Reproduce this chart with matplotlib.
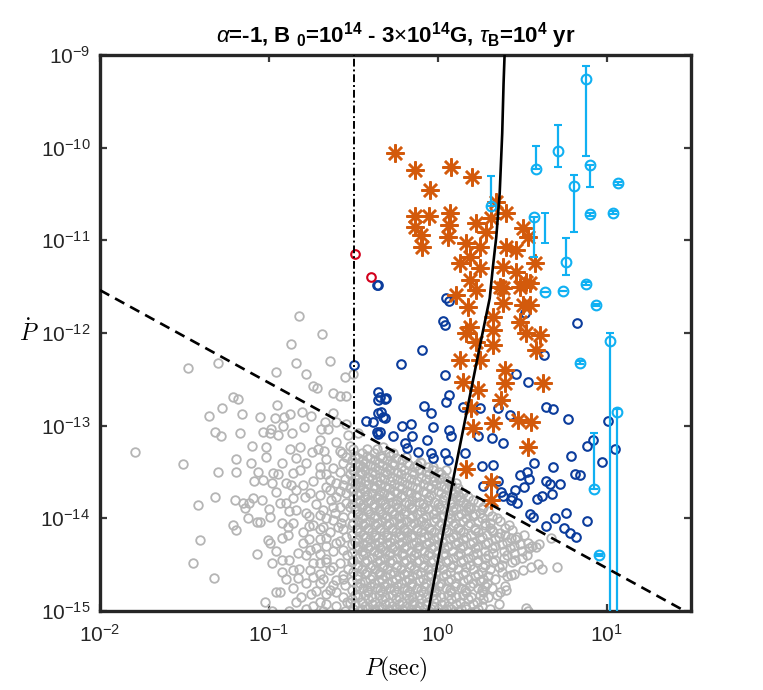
import numpy as np
import matplotlib
matplotlib.use("Agg")
import matplotlib.pyplot as plt
from matplotlib.ticker import FixedLocator, FuncFormatter, NullLocator

# ── Data (log10 values) ──────────────────────────────────────────────────────
# grey: ordinary pulsars, scattered part
gray_logP = [
    -0.822, -0.685, -0.868, -0.639, -0.837, -1.300, -1.477, -0.959, -0.778, -0.550,
    -0.501, -0.738, -0.712, -0.620, -0.580, -0.541, -1.211, -1.182, -0.949, -1.280,
    -1.353, -1.158, -1.050, -0.876, -0.910, -0.803, -0.748, -0.620, -0.669, -0.600,
    -0.541, -0.961, -0.916, -0.988, -0.994, -0.945, -1.034, -1.320, -1.286, -1.172,
    -0.860, -0.791, -0.689, -0.650, -0.531, -0.472, -1.793, -1.507, -1.097, -1.014,
    -0.876, -0.817, -0.742, -0.709, -0.675, -0.576, -0.564, -1.192, -1.018, -1.107,
    -1.300, -1.192, -1.064, -0.975, -0.945, -0.857, -0.817, -0.778, -1.034, -1.089,
    -0.984, -0.896, -0.866, -0.798, -0.837, -0.788, -0.758, -1.320, -1.418, -1.201,
    -1.152, -1.118, -1.142, -1.093, -1.038, -0.935, -0.896, -0.857, -0.994, -1.123,
    -1.073, -1.053, -1.211, -1.192, -0.925, -0.886, -0.857, -1.408, -1.005, -0.994,
    -0.920, -0.886, -1.073, -1.448, -1.325, -0.984, -0.925, -0.935, -1.024, -0.857,
    -0.807, -0.857, -0.827, -0.757, -0.738, -0.698, -0.698, -0.659, -0.797, -0.757,
    -0.718, -0.827, -0.778, -0.837, -0.778, -0.698, -0.679, -0.738, -0.679, -0.639,
    -0.659, -0.609, -0.560, -0.590, -0.541, -0.600, -0.560, -0.639, -0.600, -0.560,
    -0.639, -0.541, -0.600, -0.541, -0.541, -0.501, -0.462, -0.462, -0.639, -0.600,
    -0.560, -0.639, -0.560, -0.698, -0.521, -0.955,
    -0.70, -0.66, -0.58, -0.62, -0.66, -0.57, -0.70, -0.62, -0.66, -0.58,
    -0.53, -0.70, -0.62, -0.55, -0.75, -0.66, -0.60, -0.78, -0.68, -0.55, -0.88,
    -0.74, -0.70, -0.66, -0.72, -0.63, -0.58, -0.55, -0.58, -0.76, -0.70,
    -0.62, -0.56, -0.80, -0.76, -0.66, -0.58, -0.70, -0.54, -0.74, -0.62,
    -0.56, -0.68, -0.78, -0.72, -0.60, -0.54, -0.66, -0.84, -0.74, -0.90,
    -0.88, -0.96, -0.92, -0.82, -0.76, -0.70, -0.62, -0.56, -0.66, -0.60,
    -0.52, -0.70, -0.84, -0.92, -0.88, -0.96, -1.00, -0.98,
    -0.324, -0.265, -0.186, -0.107, -0.028, 0.051, 0.110, 0.130, 0.189, 0.249,
    0.308, 0.367, 0.435, 0.534, 0.584, 0.672, 0.706, 0.593, 0.504, 0.435,
    0.524, 0.406, 0.534,
]
gray_logPdot = [
    -11.816, -12.011, -12.122, -12.302, -12.327, -12.327, -12.381, -12.424, -12.446, -12.478,
    -12.442, -12.572, -12.590, -12.650, -12.680, -12.680, -12.687, -12.716, -12.777, -12.813,
    -12.896, -12.874, -12.910, -12.874, -12.902, -12.849, -12.892, -12.860, -12.957, -12.957,
    -12.982, -12.913, -12.999, -13.040, -13.076, -13.101, -13.065, -13.065, -13.111, -13.083,
    -13.076, -13.017, -13.040, -13.040, -13.101, -13.083, -13.287, -13.413, -13.220, -13.230,
    -13.255, -13.233, -13.287, -13.255, -13.273, -13.273, -13.298, -13.363, -13.341, -13.406,
    -13.496, -13.496, -13.496, -13.514, -13.521, -13.514, -13.478, -13.406, -13.586, -13.593,
    -13.622, -13.622, -13.640, -13.640, -13.694, -13.773, -13.730, -13.766, -13.856, -13.802,
    -13.838, -13.838, -13.892, -13.784, -13.802, -13.838, -13.838, -13.784, -13.989, -13.999,
    -14.036, -14.036, -14.072, -14.126, -14.054, -14.090, -14.054, -14.234, -14.234, -14.263,
    -14.215, -14.180, -14.385, -14.485, -14.647, -14.485, -14.449, -14.791, -14.899, -14.755,
    -14.845, -14.557, -14.647, -14.557, -14.629, -14.701, -14.485, -14.467, -14.270, -14.342,
    -14.324, -14.377, -14.395, -13.910, -13.946, -13.964, -13.910, -14.072, -14.090, -14.144,
    -14.215, -13.946, -13.982, -14.090, -14.198, -14.270, -14.342, -13.586, -13.622, -13.640,
    -13.694, -13.730, -13.766, -13.838, -13.334, -13.478, -13.424, -13.604, -14.557, -14.665,
    -14.611, -14.773, -14.845, -14.899, -14.917, -14.790,
    -13.45, -13.52, -13.50, -13.88, -14.00, -14.05, -14.22, -14.35, -14.44, -14.48,
    -14.55, -14.60, -14.72, -14.72, -14.82, -14.82, -14.95, -14.98, -15.00, -15.00, -15.00,
    -13.60, -13.75, -13.66, -13.85, -13.80, -13.88, -13.58, -13.70, -13.98, -14.12,
    -14.02, -14.12, -14.15, -14.22, -14.30, -14.24, -14.38, -14.40, -14.48, -14.52,
    -14.66, -14.66, -14.70, -14.78, -14.80, -14.90, -14.92, -14.90, -14.95, -14.65,
    -14.45, -14.35, -14.58, -14.55, -14.08, -13.52, -13.46, -13.40, -13.36, -13.18,
    -13.22, -13.15, -13.35, -13.40, -13.92, -13.72, -13.90, -15.00,
    -13.227, -13.298, -13.334, -13.388, -13.442, -13.478, -13.622, -13.766, -13.874, -13.946,
    -14.053, -14.160, -14.215, -14.270, -14.306, -14.215, -14.520, -14.490, -14.557, -14.611,
    -14.970, -14.773, -14.996,
]

# grey: dense core, one row of log10(P) values per log10(Pdot) level
gray_rows = [
    (-13.250, [-0.50, -0.42, -0.36]),
    (-13.300, [-0.45, -0.38, -0.29]),
    (-13.325, [-0.49, -0.42, -0.34, -0.28]),
    (-13.350, [-0.47, -0.40, -0.33, -0.25]),
    (-13.375, [-0.51, -0.44, -0.37, -0.30, -0.21]),
    (-13.400, [-0.49, -0.43, -0.35, -0.27, -0.18, -0.10]),
    (-13.425, [-0.47, -0.40, -0.33, -0.26, -0.17, -0.12]),
    (-13.450, [-0.52, -0.44, -0.37, -0.30, -0.22, -0.14, -0.06]),
    (-13.475, [-0.50, -0.43, -0.35, -0.28, -0.20, -0.11, -0.03]),
    (-13.500, [-0.46, -0.39, -0.31, -0.24, -0.15, -0.07, 0.01]),
    (-13.525, [-0.52, -0.45, -0.37, -0.30, -0.22, -0.14, -0.05, 0.02]),
    (-13.550, [-0.49, -0.41, -0.34, -0.27, -0.19, -0.10, -0.02, 0.04]),
    (-13.575, [-0.47, -0.39, -0.32, -0.24, -0.16, -0.07, 0.01]),
    (-13.600, [-0.51, -0.43, -0.36, -0.28, -0.21, -0.12, -0.03, 0.06]),
    (-13.625, [-0.49, -0.41, -0.34, -0.26, -0.18, -0.09, -0.01, 0.08]),
    (-13.650, [-0.46, -0.38, -0.31, -0.23, -0.15, -0.06, 0.02, 0.08]),
    (-13.675, [-0.52, -0.44, -0.37, -0.29, -0.21, -0.12, -0.04, 0.05, 0.12]),
    (-13.700, [-0.50, -0.43, -0.34, -0.26, -0.18, -0.09, 0.00, 0.10]),
    (-13.725, [-0.46, -0.39, -0.32, -0.24, -0.16, -0.07, 0.02, 0.09, 0.15]),
    (-13.750, [-0.48, -0.42, -0.35, -0.28, -0.21, -0.13, -0.04, 0.05, 0.12]),
    (-13.775, [-0.50, -0.43, -0.36, -0.29, -0.22, -0.13, -0.05, 0.04, 0.11, 0.18]),
    (-13.800, [-0.46, -0.40, -0.33, -0.24, -0.15, -0.06, 0.03, 0.13, 0.21]),
    (-13.825, [-0.47, -0.41, -0.34, -0.27, -0.19, -0.11, -0.02, 0.07, 0.15, 0.24]),
    (-13.850, [-0.51, -0.44, -0.38, -0.31, -0.25, -0.17, -0.09, 0.00, 0.08, 0.17]),
    (-13.875, [-0.52, -0.45, -0.38, -0.31, -0.24, -0.16, -0.08, 0.01, 0.09, 0.18, 0.27]),
    (-13.900, [-0.49, -0.42, -0.35, -0.29, -0.22, -0.15, -0.06, 0.02, 0.11, 0.19, 0.26]),
    (-13.925, [-0.48, -0.41, -0.34, -0.27, -0.19, -0.10, -0.01, 0.09, 0.17, 0.30]),
    (-13.950, [-0.47, -0.40, -0.33, -0.26, -0.20, -0.12, -0.03, 0.06, 0.14, 0.22]),
    (-13.975, [-0.51, -0.44, -0.37, -0.30, -0.23, -0.15, -0.07, 0.03, 0.12, 0.21, 0.32]),
    (-14.000, [-0.45, -0.38, -0.31, -0.23, -0.16, -0.09, -0.01, 0.08, 0.17, 0.26, 0.35]),
    (-14.025, [-0.47, -0.40, -0.33, -0.26, -0.18, -0.10, -0.02, 0.06, 0.15, 0.24, 0.37]),
    (-14.050, [-0.50, -0.43, -0.36, -0.29, -0.22, -0.14, -0.07, 0.02, 0.10, 0.19, 0.28]),
    (-14.075, [-0.51, -0.44, -0.37, -0.30, -0.23, -0.16, -0.08, 0.01, 0.09, 0.18, 0.28, 0.42]),
    (-14.100, [-0.48, -0.41, -0.34, -0.27, -0.20, -0.12, -0.05, 0.04, 0.12, 0.22, 0.31, 0.40]),
    (-14.125, [-0.48, -0.41, -0.34, -0.27, -0.20, -0.12, -0.04, 0.05, 0.13, 0.22, 0.32, 0.44]),
    (-14.150, [-0.46, -0.39, -0.32, -0.25, -0.18, -0.10, -0.02, 0.06, 0.15, 0.24, 0.33]),
    (-14.175, [-0.51, -0.44, -0.37, -0.30, -0.22, -0.15, -0.06, 0.02, 0.11, 0.20, 0.29, 0.40, 0.51]),
    (-14.200, [-0.43, -0.37, -0.30, -0.23, -0.16, -0.08, 0.00, 0.09, 0.17, 0.26, 0.36, 0.47]),
    (-14.225, [-0.47, -0.40, -0.33, -0.26, -0.18, -0.10, -0.02, 0.07, 0.15, 0.25, 0.34, 0.46]),
    (-14.250, [-0.49, -0.42, -0.35, -0.28, -0.21, -0.13, -0.05, 0.03, 0.12, 0.21, 0.30, 0.41]),
    (-14.275, [-0.51, -0.44, -0.37, -0.30, -0.23, -0.15, -0.07, 0.01, 0.10, 0.19, 0.28, 0.38, 0.49, 0.60]),
    (-14.300, [-0.47, -0.40, -0.33, -0.26, -0.19, -0.11, -0.02, 0.06, 0.15, 0.24, 0.34, 0.45, 0.56]),
    (-14.325, [-0.48, -0.41, -0.34, -0.27, -0.20, -0.12, -0.04, 0.04, 0.13, 0.22, 0.32, 0.43, 0.54]),
    (-14.350, [-0.45, -0.38, -0.31, -0.24, -0.16, -0.08, 0.00, 0.09, 0.18, 0.28, 0.39, 0.50]),
    (-14.375, [-0.51, -0.43, -0.35, -0.28, -0.21, -0.13, -0.05, 0.04, 0.13, 0.23, 0.33, 0.45]),
    (-14.400, [-0.44, -0.36, -0.29, -0.21, -0.14, -0.06, 0.03, 0.12, 0.21, 0.30, 0.41, 0.53]),
    (-14.425, [-0.47, -0.39, -0.31, -0.24, -0.16, -0.08, 0.00, 0.09, 0.18, 0.28, 0.39, 0.50]),
    (-14.450, [-0.50, -0.42, -0.34, -0.27, -0.19, -0.11, -0.03, 0.06, 0.15, 0.24, 0.34, 0.46]),
    (-14.475, [-0.51, -0.43, -0.36, -0.28, -0.20, -0.12, -0.04, 0.05, 0.14, 0.23, 0.33, 0.44]),
    (-14.500, [-0.47, -0.39, -0.32, -0.24, -0.16, -0.08, 0.01, 0.09, 0.19, 0.28, 0.38]),
    (-14.525, [-0.48, -0.40, -0.33, -0.25, -0.17, -0.09, -0.01, 0.08, 0.17, 0.27, 0.36, 0.55]),
    (-14.550, [-0.45, -0.37, -0.30, -0.22, -0.14, -0.06, 0.03, 0.12, 0.21, 0.31, 0.62]),
    (-14.575, [-0.50, -0.42, -0.34, -0.26, -0.18, -0.10, -0.01, 0.07, 0.16, 0.26, 0.38]),
    (-14.600, [-0.43, -0.35, -0.28, -0.20, -0.12, -0.04, 0.05, 0.15, 0.24, 0.45]),
    (-14.625, [-0.47, -0.39, -0.31, -0.23, -0.15, -0.06, 0.03, 0.12, 0.22, 0.30, 0.41]),
    (-14.650, [-0.48, -0.40, -0.33, -0.25, -0.17, -0.09, -0.01, 0.08, 0.18, 0.27, 0.34]),
    (-14.675, [-0.51, -0.43, -0.35, -0.27, -0.19, -0.11, -0.02, 0.06, 0.15, 0.25]),
    (-14.700, [-0.46, -0.38, -0.30, -0.22, -0.15, -0.07, 0.02, 0.11, 0.21, 0.29]),
    (-14.725, [-0.48, -0.40, -0.32, -0.24, -0.16, -0.08, 0.01, 0.10, 0.19, 0.28, 0.40]),
    (-14.750, [-0.44, -0.36, -0.28, -0.20, -0.12, -0.04, 0.05, 0.14, 0.24, 0.32]),
    (-14.775, [-0.51, -0.42, -0.34, -0.26, -0.18, -0.10, -0.02, 0.07, 0.16, 0.26]),
    (-14.800, [-0.41, -0.33, -0.25, -0.17, -0.09, -0.01, 0.08, 0.17, 0.27, 0.37]),
    (-14.825, [-0.49, -0.43, -0.35, -0.27, -0.19, -0.11, -0.03, 0.06, 0.15, 0.25, 0.35]),
    (-14.850, [-0.47, -0.39, -0.31, -0.23, -0.15, -0.07, 0.02, 0.11, 0.20, 0.30]),
    (-14.875, [-0.51, -0.41, -0.33, -0.25, -0.17, -0.10, -0.01, 0.08, 0.18, 0.27]),
    (-14.900, [-0.45, -0.37, -0.29, -0.21, -0.14, -0.06, 0.04, 0.13, 0.23]),
    (-14.925, [-0.49, -0.39, -0.31, -0.23, -0.15, -0.07, 0.02, 0.11, 0.21, 0.36]),
    (-14.950, [-0.43, -0.35, -0.27, -0.19, -0.11, -0.03, 0.06, 0.16, 0.26]),
    (-14.975, [-0.50, -0.45, -0.37, -0.29, -0.21, -0.13, -0.04, 0.05, 0.14, 0.24]),
    (-14.980, [-0.41, -0.33, -0.25, -0.16, -0.08, 0.00, 0.08, 0.17, 0.31]),
    (-15.000, [-0.46, -0.37, -0.29, -0.20, -0.12, -0.05, 0.04, 0.12, 0.22]),
]

# dark blue: pulsars above the dashed line
blue_logP = [
    -0.352, 0.051, 0.065, 0.518, 0.824, 0.031, 0.045, -0.093, 0.628, -0.218,
    0.045, 0.465, 0.534, 0.067, 0.051, -0.304, -0.343, -0.083, 0.150, 0.249,
    0.357, 0.426, 0.643, 0.682, 0.771, 1.008, -0.037, -0.028, -0.209, -0.156,
    -0.324, 0.067, 0.081, 0.238, 0.323, 0.386, -0.152, -0.265, -0.064, -0.195,
    -0.182, -0.115, -0.042, -0.028, 0.041, 0.061, 0.160, 0.918, 0.883, 1.051,
    0.972, 0.787, 0.568, 0.682, 0.811, 0.844, 0.264, 0.327, 0.485, 0.528,
    0.538, 0.357, 0.643, 0.666, 0.722, 0.268, 0.509, 0.376, 0.386, 0.456,
    0.441, 0.435, 0.469, 0.617, 0.587, 0.676, 0.757, 0.696, 0.544, 0.563,
    0.883, 0.639, 0.746, 0.785, 0.820, -0.343, -0.354, -0.314, -0.354, -0.337,
    -0.354, -0.314, -0.426, -0.383, -0.360, -0.354, -0.495, -0.361,
]
blue_logPdot = [
    -11.482, -11.625, -11.651, -11.787, -11.895, -11.867, -11.914, -12.183, -12.237, -12.334,
    -12.453, -12.442, -12.532, -12.669, -12.741, -12.705, -12.690, -12.788, -12.795, -12.806,
    -12.806, -12.885, -12.795, -12.823, -12.933, -12.950, -12.866, -13.010, -13.003, -12.982,
    -12.903, -13.047, -13.108, -13.111, -13.136, -13.190, -13.111, -13.111, -13.154, -13.190,
    -13.244, -13.287, -13.298, -13.352, -13.298, -13.370, -13.298, -13.154, -13.219, -13.252,
    -13.396, -13.327, -13.400, -13.449, -13.521, -13.532, -13.431, -13.424, -13.532, -13.503,
    -13.575, -13.593, -13.597, -13.629, -13.629, -13.647, -13.665, -13.719, -13.759, -13.694,
    -13.766, -13.802, -13.831, -13.759, -13.795, -13.737, -13.939, -13.999, -13.953, -13.989,
    -14.025, -14.083, -14.107, -14.155, -14.198, -13.065, -12.633, -12.712, -12.723, -12.856,
    -12.866, -12.920, -12.946, -12.957, -13.065, -13.090, -12.345, -11.480,
]

red_logP = [-0.491, -0.396]
red_logPdot = [-11.151, -11.400]

# orange asterisks
star_logP = [
    -0.254, -0.136, 0.077, 0.203, -0.047, -0.136, -0.053, 0.071, -0.136, 0.065,
    -0.097, 0.061, -0.093, 0.347, 0.406, 0.225, 0.317, 0.288, 0.169, 0.504,
    0.534, 0.130, 0.189, 0.249, 0.406, 0.465, 0.574, 0.249, 0.386, 0.465,
    0.189, 0.110, 0.524, 0.386, 0.229, 0.179, 0.367, 0.485, 0.544, 0.504,
    0.544, 0.386, 0.327, 0.189, 0.169, 0.327, 0.485, 0.524, 0.604, 0.584,
    0.229, 0.327, 0.130, 0.249, 0.396, 0.396, 0.623, 0.150, 0.238, 0.376,
    0.199, 0.475, 0.554, 0.327, 0.208, 0.534, 0.166, 0.317, 0.317,
]
star_logPdot = [
    -10.061, -10.241, -10.212, -10.320, -10.457, -10.734, -10.734, -10.708, -10.853, -10.834,
    -10.942, -10.960, -11.075, -10.583, -10.708, -10.816, -10.762, -10.906, -11.032, -10.870,
    -10.960, -11.248, -11.176, -11.068, -11.068, -11.104, -11.248, -11.302, -11.284, -11.338,
    -11.428, -11.590, -11.446, -11.518, -11.536, -11.716, -11.500, -11.500, -11.464, -11.698,
    -11.698, -11.680, -11.824, -11.932, -12.003, -11.967, -11.878, -12.003, -12.021, -12.183,
    -12.094, -12.129, -12.291, -12.291, -12.399, -12.543, -12.543, -12.525, -12.615, -12.723,
    -12.813, -12.939, -12.963, -12.975, -13.028, -13.227, -13.467, -13.604, -13.802,
]

# light blue: magnetars, with error bar ends (log10)
mag_logP = [0.878, 0.712, 0.582, 0.899, 0.806, 1.065, 0.901, 1.037, 0.569, 0.314,
            0.761, 0.637, 0.740, 0.879, 0.938, 0.842, 1.020, 1.059, 0.923, 0.953]
mag_logPdot = [-9.262, -10.036, -10.230, -10.190, -10.414, -10.385, -10.720, -10.700, -10.745, -10.630,
               -11.234, -11.554, -11.543, -11.470, -11.698, -12.320, -12.086, -12.856, -13.683, -14.395]
mag_lo = [-10.090, -10.212, -10.230, -10.420, -10.907, -10.400, -10.735, -10.715, -11.176, -10.630,
          -11.370, -11.554, -11.543, -11.485, -11.713, -12.335, -16.0, -16.0, -13.683, -14.410]
mag_hi = [-9.119, -9.755, -9.980, -10.190, -10.300, -10.370, -10.705, -10.685, -10.745, -10.310,
          -10.980, -11.554, -11.543, -11.455, -11.683, -12.305, -12.003, -12.820, -13.080, -14.380]
baronly_logP = [0.633]
baronly_lo = [-11.030]
baronly_hi = [-10.708]

# evolution track (solid) and reference lines
track_logP = [-0.055, 0.091, 0.249, 0.308, 0.327, 0.347, 0.367, 0.382, 0.390, 0.396]
track_logPdot = [-15.0, -13.586, -12.147, -11.625, -11.284, -10.960, -10.492, -9.845, -9.306, -9.0]
dash_P = [1e-2, 31.6]
dash_Pdot = [2.9e-12, 9.2e-16]
vline_P = 0.318

title = (r'$\alpha$=-1, B $_{\mathbf{0}}$=10$^{\mathbf{14}}$ - 3$\times$10$^{\mathbf{14}}$G, '
         r'$\tau_{\mathbf{B}}$=10$^{\mathbf{4}}$ yr')

# ── Style ─────────────────────────────────────────────────────────────────────
plt.rcParams['font.family'] = ['Liberation Sans', 'DejaVu Sans']
plt.rcParams['mathtext.fontset'] = 'custom'
plt.rcParams['mathtext.rm'] = 'Liberation Sans'
plt.rcParams['mathtext.it'] = 'Liberation Sans:italic'
plt.rcParams['mathtext.bf'] = 'Liberation Sans:bold'

GRAY = '#B5B5B5'
BLUE = '#0B3C9C'
ORANGE = '#D35A0C'
LBLUE = '#10B0F2'
RED = '#D2001C'
FRAME = '#262626'

fig = plt.figure(figsize=(7.63, 6.90), dpi=100)
ax = fig.add_axes([100 / 763, 1 - 611 / 690, 591 / 763, 556 / 690])

p = lambda a: 10.0 ** np.asarray(a, dtype=float)

core_logP = [v for _, row in gray_rows for v in row]
core_logPdot = [y for y, row in gray_rows for _ in row]
all_gray_logP = gray_logP + core_logP
all_gray_logPdot = gray_logPdot + core_logPdot

ax.plot(p(all_gray_logP), p(all_gray_logPdot), 'o', ls='none', mfc='none', mec=GRAY,
        ms=6.2, mew=1.3, zorder=2)
ax.plot(p(blue_logP), p(blue_logPdot), 'o', ls='none', mfc='none', mec=BLUE,
        ms=6.2, mew=1.5, zorder=3)
ax.plot(p(red_logP), p(red_logPdot), 'o', ls='none', mfc='none', mec=RED,
        ms=6.2, mew=1.5, zorder=3)
ax.plot(p(star_logP), p(star_logPdot), ls='none', marker=(8, 2, 0), color=ORANGE,
        ms=13, mew=1.8, zorder=4)

mP = p(mag_logP)
mPd = p(mag_logPdot)
yerr = [mPd - p(mag_lo), p(mag_hi) - mPd]
ax.errorbar(mP, mPd, yerr=yerr, fmt='o', mfc='none', mec=LBLUE, ecolor=LBLUE,
            ms=7, mew=1.5, elinewidth=1.6, capsize=2.8, capthick=1.4, zorder=5)
ax.errorbar(p(baronly_logP), p(baronly_hi), yerr=[p(baronly_hi) - p(baronly_lo), np.zeros(1)],
            fmt='none', ecolor=LBLUE, elinewidth=1.6, capsize=2.8, capthick=1.4, zorder=5)

ax.plot(p(track_logP), p(track_logPdot), '-', color='black', lw=1.9, zorder=6)
ax.plot(dash_P, dash_Pdot, '--', color='black', lw=1.9, dashes=(4, 2.5), zorder=6)
ax.axvline(vline_P, color='black', lw=1.4, ls='-.', dashes=(4, 1.5, 1, 1.5), zorder=6)

ax.set_xscale('log')
ax.set_yscale('log')
ax.set_xlim(1e-2, 10 ** 1.5)
ax.set_ylim(1e-15, 1e-9)

fmt = FuncFormatter(lambda v, pos: r'10$^{%d}$' % int(round(np.log10(v))))
ax.xaxis.set_major_locator(FixedLocator([1e-2, 1e-1, 1e0, 1e1]))
ax.yaxis.set_major_locator(FixedLocator([10.0 ** k for k in range(-15, -8)]))
ax.xaxis.set_major_formatter(fmt)
ax.yaxis.set_major_formatter(fmt)
ax.xaxis.set_minor_locator(NullLocator())
ax.yaxis.set_minor_locator(NullLocator())
ax.tick_params(which='major', direction='in', length=5, width=1.6, color='#3a3a3a',
               top=True, right=True, labelsize=15, labelcolor=FRAME)
ax.tick_params(axis='x', pad=9)
ax.tick_params(axis='y', pad=7)

for s in ax.spines.values():
    s.set_linewidth(2.4)
    s.set_color(FRAME)

ax.set_xlabel(r'$P(\mathrm{sec})$', fontsize=17, math_fontfamily='cm', labelpad=7)
ax.set_ylabel(r'$\dot{P}$', fontsize=17, math_fontfamily='cm', rotation=0, labelpad=8,
              va='center')
ax.set_title(title, fontsize=16, fontweight='bold', pad=9)

fig.savefig('out.png', dpi=100)
